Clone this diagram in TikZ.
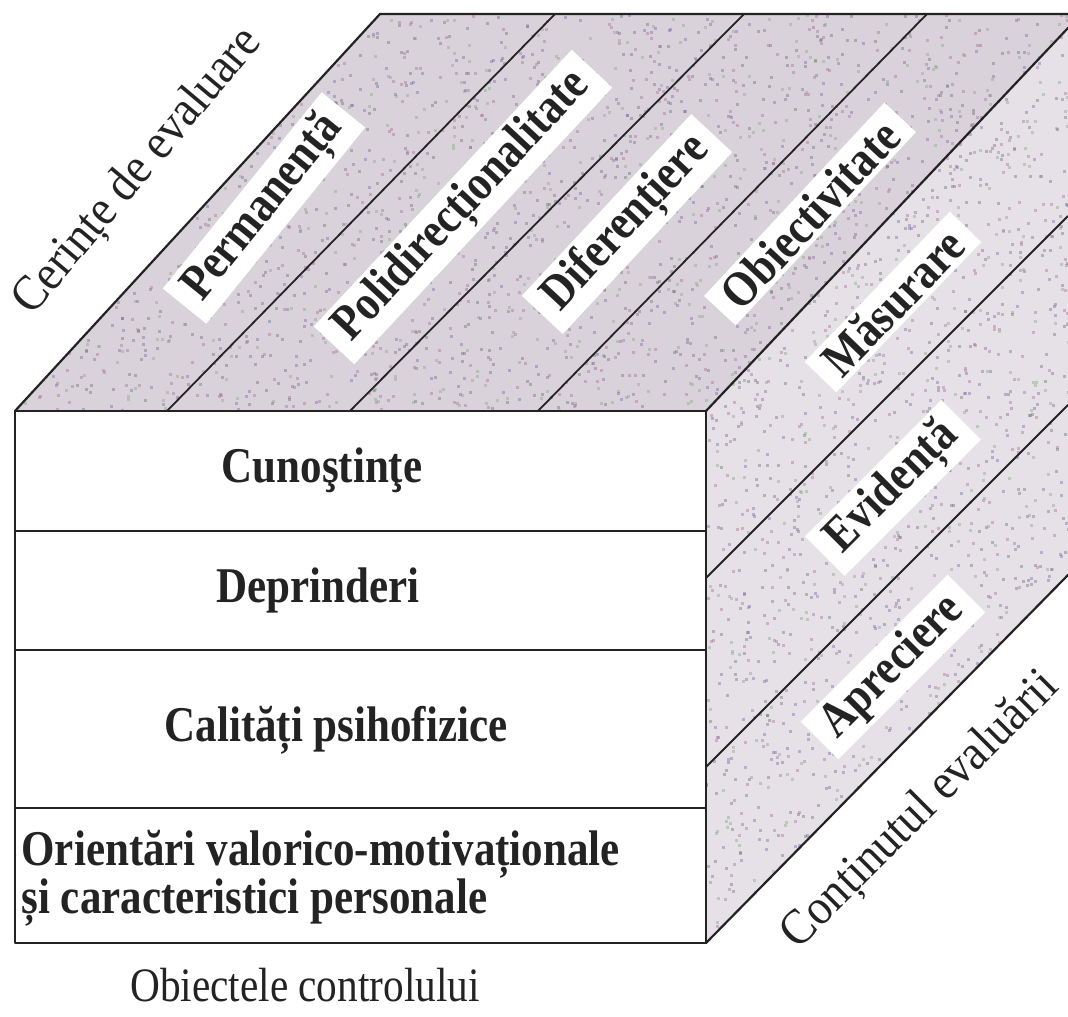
\documentclass[tikz,border=0pt]{standalone}
\usepackage{fontspec}
\setmainfont{Liberation Serif}
\newfontfamily\condserif[FakeStretch=0.86]{Liberation Serif}
\newfontfamily\semicond[FakeStretch=0.92]{Liberation Serif}
\definecolor{ink}{RGB}{35,35,35}
\definecolor{topbase}{RGB}{218,210,218}
\definecolor{rightbase}{RGB}{230,225,231}
\definecolor{nzpink}{RGB}{170,110,150}
\definecolor{nzgreen}{RGB}{135,165,135}
\definecolor{nzpurple}{RGB}{120,105,170}
\definecolor{nzgray}{RGB}{110,110,120}
\begin{document}
\begin{tikzpicture}[x=1pt,y=-1pt,
  edge/.style={draw=ink, line width=2.2pt, line join=round, line cap=round},
  thin edge/.style={draw=ink, line width=1.8pt, line cap=round},
  lab/.style={fill=white, text=ink, font=\condserif\bfseries\fontsize{50}{56}\selectfont, inner xsep=14pt, inner ysep=4pt},
  front/.style={text=ink, font=\condserif\bfseries\fontsize{50}{47}\selectfont},
  outer/.style={text=ink, font=\semicond\fontsize{50}{56}\selectfont},
  caption/.style={text=ink, font=\condserif\fontsize{48}{54}\selectfont},
  nz1/.style={fill=nzpink, fill opacity=0.42},
  nz2/.style={fill=nzgreen, fill opacity=0.42},
  nz3/.style={fill=nzpurple, fill opacity=0.42},
  nz4/.style={fill=nzgray, fill opacity=0.42},
]
\useasboundingbox (0,0) rectangle (1068,1017);
\fill[white] (0,0) rectangle (1068,1017);
% corners
\coordinate (A) at (15,411);
\coordinate (B) at (706,411);
\coordinate (C) at (706,943);
\coordinate (D) at (15,943);
\coordinate (E) at (380,14);
\coordinate (TR) at (1068,14);
\coordinate (F) at (1068,28);
\coordinate (G) at (1068,575);
% top dividers
\coordinate (t1a) at (167,411); \coordinate (t1b) at (555,14);
\coordinate (t2a) at (350,411); \coordinate (t2b) at (744,14);
\coordinate (t3a) at (538,411); \coordinate (t3b) at (927,14);
% right dividers
\coordinate (r1a) at (706,578); \coordinate (r1b) at (1068,216);
\coordinate (r2a) at (706,767); \coordinate (r2b) at (1068,405);
% front dividers
\coordinate (f1a) at (15,531); \coordinate (f1b) at (706,531);
\coordinate (f2a) at (15,650); \coordinate (f2b) at (706,650);
\coordinate (f3a) at (15,808); \coordinate (f3b) at (706,808);

% faces
\fill[topbase] (A) -- (E) -- (TR) -- (F) -- (B) -- cycle;
\fill[rightbase] (B) -- (F) -- (G) -- (C) -- cycle;
\begin{scope}
  \clip (A) -- (E) -- (TR) -- (G) -- (C) -- (B) -- cycle;
  \pgfmathsetseed{12345}
  \foreach \i in {1,...,6500}{
    \pgfmathsetmacro{\px}{15+1053*rnd}
    \pgfmathsetmacro{\py}{14+929*rnd}
    \pgfmathrandominteger{\k}{1}{4}
    \fill[nz\k] (\px,\py) rectangle ++(3,3);
  }
\end{scope}
\fill[white] (A) rectangle (C);

% edges
\draw[edge] (A) -- (E) -- (TR);
\draw[edge] (B) -- (F);
\draw[edge] (C) -- (G);
\draw[thin edge] (t1a) -- (t1b);
\draw[thin edge] (t2a) -- (t2b);
\draw[thin edge] (t3a) -- (t3b);
\draw[thin edge] (r1a) -- (r1b);
\draw[thin edge] (r2a) -- (r2b);
\draw[thin edge] (f1a) -- (f1b);
\draw[thin edge] (f2a) -- (f2b);
\draw[thin edge] (f3a) -- (f3b);
\draw[edge] (A) rectangle (C);

% labels on top face
\node[lab, rotate=51] (perm) at (264,208) {Permanență};
\node[lab, rotate=47] (poli) at (463,207) {Polidirecționalitate};
\node[lab, rotate=47] (dif) at (627,224) {Diferențiere};
\node[lab, rotate=47] (obi) at (810,214) {Obiectivitate};
% labels on right face
\node[lab, rotate=46] (mas) at (893,302) {Măsurare};
\node[lab, rotate=45] (evi) at (893,488) {Evidență};
\node[lab, rotate=45] (apr) at (893,667) {Apreciere};
% outer labels
\node[outer, rotate=50] (cer) at (138,172) {Cerințe de evaluare};
\node[outer, rotate=45] (con) at (921,811) {Conținutul evaluării};
% front face
\node[front] (cun) at (322,470) {Cunoştinţe};
\node[front] (dep) at (318,590) {Deprinderi};
\node[front] (cal) at (336,730) {Calități psihofizice};
\node[front, align=left, anchor=west] (ori) at (18,878) {Orientări valorico-motivaționale\\și caracteristici personale};
\node[caption] (obc) at (305,985) {Obiectele controlului};
\end{tikzpicture}
\end{document}
